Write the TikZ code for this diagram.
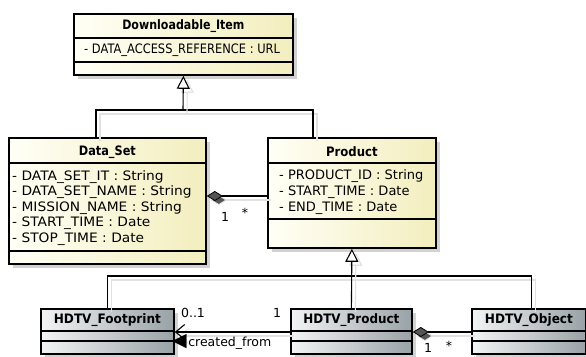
\documentclass[tikz,border=0pt]{standalone}
\usepackage{fontspec}
\setmainfont{DejaVu Sans}
\usetikzlibrary{arrows.meta,calc}
\definecolor{yelA}{HTML}{FFFFF6}
\definecolor{yelB}{HTML}{F3EEBE}
\definecolor{grayA}{HTML}{F2F4F5}
\definecolor{grayB}{HTML}{98A2A7}
\definecolor{shadowc}{HTML}{D2D2D2}
\definecolor{lnshadow}{HTML}{E2E2E2}
\definecolor{diam}{HTML}{555555}
\begin{document}
\begin{tikzpicture}[x=1pt,y=-1pt,
  box/.style={draw=black, line width=1.8pt, rectangle, inner sep=0pt, anchor=north west,
    preaction={fill=shadowc, transform canvas={shift={(4pt,-4pt)}}}},
  yelbox/.style={box, left color=yelA, right color=yelB},
  graybox/.style={box, left color=grayA, right color=grayB},
  sep/.style={line width=1.3pt, draw=black},
  title/.style={inner sep=0pt, font=\fontsize{13}{15}\selectfont\bfseries},
  attr/.style={inner sep=0pt, anchor=west, font=\fontsize{13}{15}\selectfont},
  lbl/.style={inner sep=0pt, font=\fontsize{12.5}{14}\selectfont},
  conn/.style={draw=black, line width=1.1pt,
    preaction={draw=lnshadow, line width=1.1pt, transform canvas={shift={(4pt,-4pt)}}}},
  inh/.style={conn, -{Triangle[open, length=13pt, width=13pt, fill=white, line width=1.1pt]}},
  agg/.style={conn, {Diamond[length=16pt, width=10pt, fill=diam, line width=0.8pt]}-}
]
\useasboundingbox (0,0) rectangle (586,356);

% ---- boxes ----
\node[yelbox, minimum width=219pt, minimum height=61pt] (di) at (73,13) {};
\node[yelbox, minimum width=197pt, minimum height=126pt] (ds) at (8,137) {};
\node[yelbox, minimum width=168pt, minimum height=110pt] (pr) at (267,137) {};
\node[graybox, minimum width=133pt, minimum height=45pt] (hf) at (40,308) {};
\node[graybox, minimum width=121pt, minimum height=45pt] (hp) at (290,308) {};
\node[graybox, minimum width=114pt, minimum height=45pt] (ho) at (471,308) {};

% separators
\draw[sep] ($(di.north west)+(0,25)$) -- ($(di.north east)+(0,25)$);
\draw[sep] ($(di.north west)+(0,49)$) -- ($(di.north east)+(0,49)$);
\draw[sep] ($(ds.north west)+(0,26)$) -- ($(ds.north east)+(0,26)$);
\draw[sep] ($(ds.north west)+(0,114)$) -- ($(ds.north east)+(0,114)$);
\draw[sep] ($(pr.north west)+(0,26)$) -- ($(pr.north east)+(0,26)$);
\draw[sep] ($(pr.north west)+(0,82)$) -- ($(pr.north east)+(0,82)$);
\foreach \b in {hf,hp,ho}{
  \draw[sep] ($(\b.north west)+(0,23)$) -- ($(\b.north east)+(0,23)$);
  \draw[sep] ($(\b.north west)+(0,33)$) -- ($(\b.north east)+(0,33)$);
}

% titles
\node[title] (dit) at ($(di.north)+(0,13)$) {\scalebox{0.85}[1]{Downloadable\_Item}};
\node[title] (dst) at ($(ds.north)+(0,15)$) {\scalebox{0.87}[1]{Data\_Set}};
\node[title] (prt) at ($(pr.north)+(0,15)$) {\scalebox{0.9}[1]{Product}};
\node[title] (hft) at ($(hf.north)+(0,12)$) {\scalebox{0.93}[1]{HDTV\_Footprint}};
\node[title] (hpt) at ($(hp.north)+(0,12)$) {\scalebox{0.92}[1]{HDTV\_Product}};
\node[title] (hot) at ($(ho.north)+(0,12)$) {\scalebox{0.93}[1]{HDTV\_Object}};

% attributes
\node[attr] (dia) at (84,50.5) {\scalebox{0.88}[1]{- DATA\_ACCESS\_REFERENCE : URL}};
\node[attr] (ds1) at (12,177) {\scalebox{1.06}[1]{- DATA\_SET\_IT : String}};
\node[attr] (ds2) at (12,192.5) {\scalebox{1.06}[1]{- DATA\_SET\_NAME : String}};
\node[attr] (ds3) at (12,208) {\scalebox{1.06}[1]{- MISSION\_NAME : String}};
\node[attr] (ds4) at (12,223.5) {\scalebox{1.06}[1]{- START\_TIME : Date}};
\node[attr] (ds5) at (12,239) {\scalebox{1.06}[1]{- STOP\_TIME : Date}};
\node[attr] (pr1) at (279,176) {\scalebox{1.0}[1]{- PRODUCT\_ID : String}};
\node[attr] (pr2) at (279,192) {\scalebox{1.0}[1]{- START\_TIME : Date}};
\node[attr] (pr3) at (279,208) {\scalebox{1.0}[1]{- END\_TIME : Date}};

% ---- connectors ----
\coordinate (bus1) at (183,110);
\draw[conn] ($(ds.north west)+(88,0)$) |- (bus1);
\draw[conn] ($(pr.north west)+(46,0)$) |- (bus1);
\draw[inh] (bus1) -- (di.south);

\coordinate (bus2) at (351,276);
\draw[conn] (hf.north) |- (bus2);
\draw[conn] ($(ho.north)+(3,0)$) |- (bus2);
\draw[inh] (hp.north) -- (pr.south);

\draw[agg] ($(ds.north east)+(0,59)$) -- ($(pr.north west)+(0,59)$);
\draw[agg] ($(hp.north east)+(0,24)$) -- ($(ho.north west)+(0,24)$);
\draw[conn, -{Straight Barb[length=9pt, width=15pt, line width=1.1pt]}] ($(hp.north west)+(0,24)$) -- ($(hf.north east)+(0,24)$);

% labels
\node[lbl] (m1) at (225,217) {1};
\node[lbl] (m2) at (245,213) {*};
\node[lbl] (m3) at (193,313) {0..1};
\node[lbl] (m4) at (277,313) {1};
\node[lbl] (m5) at (428,347.5) {1};
\node[lbl] (m6) at (449,346) {*};
\node[lbl, anchor=west] (cf) at (172,342) {\fontsize{19}{19}\selectfont ◀\hspace{1.5pt}\fontsize{12.5}{14}\selectfont created\_from};
\end{tikzpicture}
\end{document}
